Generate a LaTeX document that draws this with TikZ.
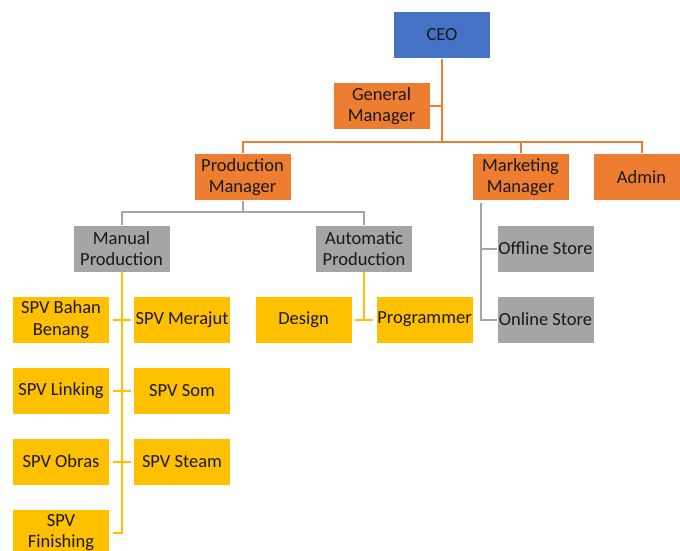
\documentclass[tikz,border=0pt]{standalone}
\usepackage{fontspec}
\setmainfont{Carlito}
\begin{document}
\begin{tikzpicture}[x=1pt,y=-1pt,
  box/.style={draw=white, line width=0.6pt, minimum width=97pt, minimum height=47pt,
    inner sep=0pt, align=center, text=black!90,
    font=\fontsize{18.5}{21.5}\selectfont},
  blu/.style={box, fill=ceoblue},
  ora/.style={box, fill=mgrorange},
  gry/.style={box, fill=unitgray},
  yel/.style={box, fill=spvyellow},
  oline/.style={draw=mgrorange, line width=2pt},
  gline/.style={draw=unitgray, line width=2pt},
  yline/.style={draw=spvyellow, line width=2pt}]
\definecolor{ceoblue}{HTML}{4472C4}
\definecolor{mgrorange}{HTML}{ED7D31}
\definecolor{unitgray}{HTML}{A5A5A5}
\definecolor{spvyellow}{HTML}{FFC000}
\useasboundingbox (0,0) rectangle (680,551);
\fill[white] (0,0) rectangle (680,551);

\node[blu] (ceo) at (442,35) {CEO};
\node[ora] (gm) at (381.5,106) {General\\Manager};
\node[ora] (pm) at (242.5,177) {Production\\Manager};
\node[ora] (mm) at (520.5,177) {Marketing\\Manager};
\node[ora] (admin) at (641.5,177) {Admin};
\node[gry] (manual) at (121.5,248.5) {Manual\\Production};
\node[gry] (auto) at (364,248.5) {Automatic\\Production};
\node[gry] (offline) at (545.5,248.5) {Offline Store};
\node[gry] (online) at (545.5,319.5) {Online Store};
\node[yel] (bahan) at (61,319.5) {SPV Bahan\\Benang};
\node[yel] (merajut) at (182,319.5) {SPV Merajut};
\node[yel] (linking) at (61,390.5) {SPV Linking};
\node[yel] (som) at (182,390.5) {SPV Som};
\node[yel] (obras) at (61,461.5) {SPV Obras};
\node[yel] (steam) at (182,461.5) {SPV Steam};
\node[yel] (finishing) at (61,532.5) {SPV\\Finishing};
\node[yel] (design) at (303.5,319.5) {Design};
\node[yel] (programmer) at (424.5,319.5) {Programmer};

% orange connectors
\coordinate (hub) at (442,142);
\draw[oline] (ceo.south) -- (hub);
\draw[oline] (gm.east) -- (gm.east -| hub);
\draw[oline] (pm.north) |- (hub) -| (admin.north);
\draw[oline] (hub) -| (mm.north);

% gray connectors
\coordinate (pmhub) at (242.5,212);
\draw[gline] (pm.south) -- (pmhub);
\draw[gline] (manual.north) |- (pmhub) -| (auto.north);
\coordinate (mmline) at (481,203);
\draw[gline] (mmline) |- (online.west);
\draw[gline] (offline.west) -- (offline.west -| mmline);

% yellow connectors
\draw[yline, shorten >=3pt] (manual.south) |- (finishing.east);
\draw[yline, shorten <=3pt, shorten >=2pt] (bahan.east) -- (merajut.west);
\draw[yline, shorten <=3pt, shorten >=2pt] (linking.east) -- (som.west);
\draw[yline, shorten <=3pt, shorten >=2pt] (obras.east) -- (steam.west);
\draw[yline] (auto.south) -- (auto.south |- design.east);
\draw[yline, shorten <=3pt, shorten >=3pt] (design.east) -- (programmer.west);
\end{tikzpicture}
\end{document}
